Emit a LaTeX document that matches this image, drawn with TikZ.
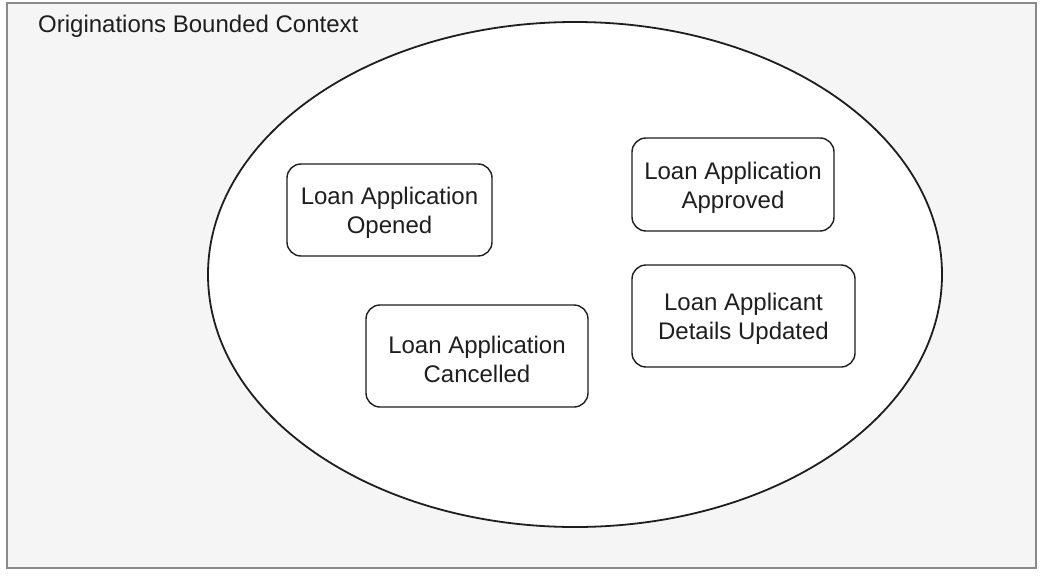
\documentclass[tikz,border=0pt]{standalone}
\usepackage{fontspec}
\setmainfont{Liberation Sans}
\usetikzlibrary{shapes.geometric}
\definecolor{bgfill}{HTML}{F5F5F5}
\definecolor{frameline}{HTML}{8A8A8A}
\definecolor{inkc}{HTML}{1E1E1E}
\begin{document}
\begin{tikzpicture}[x=1pt,y=-1pt,
  event/.style={draw=inkc, line width=1.4pt, rounded corners=14pt, fill=white,
    inner sep=0pt},
  evtext/.style={align=center, font=\fontsize{24}{29}\selectfont, text=inkc,
    inner sep=0pt, yshift=-3pt},
]
\useasboundingbox (0,0) rectangle (1040,575);
\fill[white] (0,0) rectangle (1040,575);
\node[draw=frameline, fill=bgfill, line width=2pt, minimum width=1029pt, minimum height=565pt, inner sep=0pt] (ctx) at (521.5,285.5) {};
\node[anchor=west, font=\fontsize{24}{29}\selectfont, text=inkc, inner sep=0pt] (title) at (38,26) {Originations Bounded Context};
\node[draw=inkc, fill=white, line width=1.8pt, ellipse, minimum width=734pt, minimum height=505pt, inner sep=0pt] (bc) at (575,274.5) {};
\node[event, minimum width=205pt, minimum height=92pt] (opened) at (389.5,210) {};
\node[evtext] (openedt) at (opened.center) {Loan Application\\Opened};
\node[event, minimum width=202pt, minimum height=93pt] (approved) at (733,184.5) {};
\node[evtext] (approvedt) at (approved.center) {Loan Application\\Approved};
\node[event, minimum width=223pt, minimum height=102pt] (details) at (743.5,316) {};
\node[evtext] (detailst) at (details.center) {Loan Applicant\\Details Updated};
\node[event, minimum width=222pt, minimum height=102pt] (cancelled) at (477,356) {};
\node[evtext] (cancelledt) at (cancelled.center) {Loan Application\\Cancelled};
\end{tikzpicture}
\end{document}
